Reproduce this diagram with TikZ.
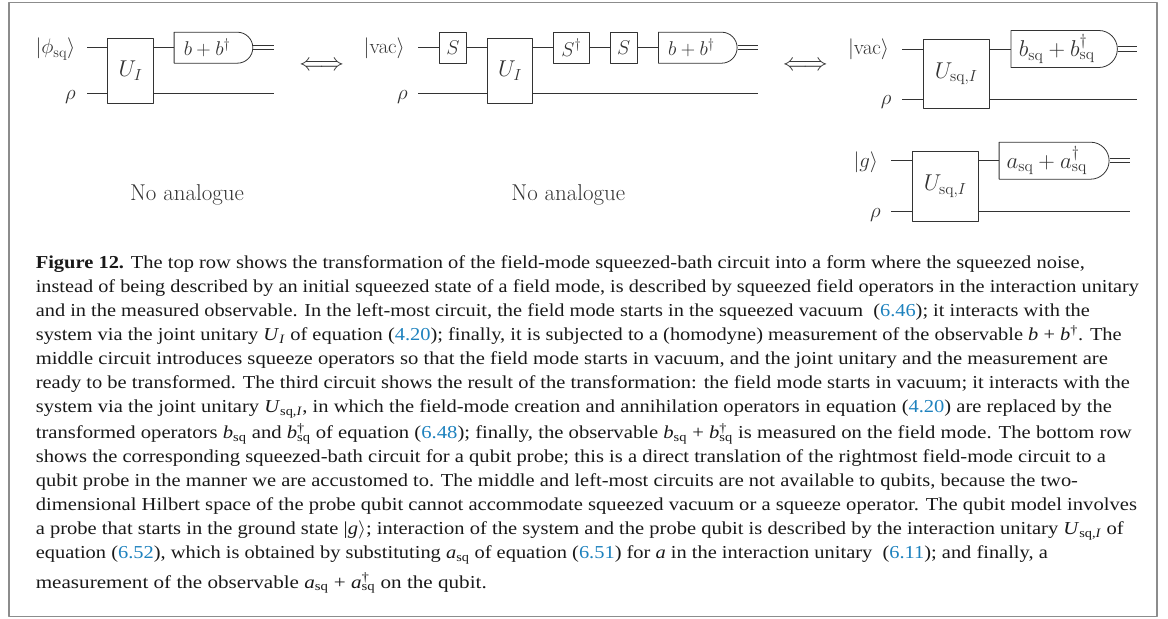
\documentclass[tikz,border=0pt]{standalone}
\usepackage{fix-cm}
\usepackage{amsmath}
\usepackage{graphicx}
\usepackage[no-math]{fontspec}
\usetikzlibrary{shapes.misc}
\newfontfamily\capfont{Liberation Serif}
\definecolor{citeblue}{RGB}{30,130,190}
\definecolor{inkgray}{gray}{0.2}
\definecolor{framegray}{gray}{0.55}
\newcommand{\cref}[1]{\textcolor{citeblue}{#1}}
\newcommand{\sqsub}[1]{\textit{#1}\textsubscript{sq}}
\newcommand{\sqdag}[1]{\textit{#1}\rlap{\textsuperscript{\textdagger}}\textsubscript{sq}}
\newcommand{\fitline}[2]{\resizebox{#1}{\height}{#2}}
\tikzset{
  gate/.style={draw=inkgray,line width=0.8bp,inner sep=0pt,text=inkgray,font=\fontsize{20}{22}\selectfont},
  biggate/.style={gate,font=\fontsize{23}{26}\selectfont},
  meter/.style={gate,rounded rectangle,rounded rectangle west arc=none},
  bigmeter/.style={meter,font=\fontsize{23}{26}\selectfont},
  wire/.style={draw=inkgray,line width=0.8bp},
  statelabel/.style={inner sep=0pt,anchor=base east,text=inkgray,font=\fontsize{21}{24}\selectfont},
  bigtext/.style={inner sep=0pt,anchor=base,text=inkgray,font=\fontsize{23}{26}\selectfont},
  capline/.style={inner sep=0pt,anchor=base west,text=black!90,font=\capfont\fontsize{18.3}{20}\selectfont},
}
\begin{document}
\begin{tikzpicture}[>=latex,line join=bevel,]
%%
\useasboundingbox (0bp,0bp) rectangle (1168bp,619bp);
\node (frame) at (583bp,309.5bp) [draw=framegray,line width=1.3bp,minimum width=1148bp,minimum height=614bp] {};
%% left circuit
\node (ket_a) at (75.5bp,565bp) [statelabel] {$|\phi_{\mathrm{sq}}\rangle$};
\node (rho_a) at (76bp,519bp) [statelabel] {$\rho$};
\coordinate (in_a1) at (87bp,571.3bp);
\coordinate (in_a2) at (87bp,525.3bp);
\coordinate (out_a1) at (274bp,571.3bp);
\coordinate (out_a2) at (274bp,525.3bp);
\node (U_a) at (130.5bp,548.2bp) [biggate,minimum width=45.6bp,minimum height=65bp] {$U_I$};
\node (meter_a) at (212bp,571.3bp) [meter,minimum width=78.7bp,minimum height=31bp] {\hspace*{-10bp}$b+b^\dagger$};
\draw [wire] (in_a1) -- (U_a.west |- in_a1);
\draw [wire] (in_a2) -- (U_a.west |- in_a2);
\draw [wire] (U_a.east |- in_a1) -- (meter_a.west);
\draw [wire] (U_a.east |- in_a2) -- (out_a2);
\draw [wire] ([yshift=2.1bp]meter_a.east) -- ([yshift=2.1bp]out_a1);
\draw [wire] ([yshift=-2.1bp]meter_a.east) -- ([yshift=-2.1bp]out_a1);
\node (iff_a) at (321.7bp,553bp) [bigtext,anchor=center,font=\fontsize{24.5}{26}\selectfont] {$\Longleftrightarrow$};
\node (none_a) at (187bp,418bp) [bigtext] {No analogue};
%% middle circuit
\node (ket_b) at (405bp,565bp) [statelabel] {$|\mathrm{vac}\rangle$};
\node (rho_b) at (408bp,519bp) [statelabel] {$\rho$};
\coordinate (in_b1) at (418.3bp,571.3bp);
\coordinate (in_b2) at (418.3bp,525.3bp);
\coordinate (out_b1) at (757.7bp,571.3bp);
\coordinate (out_b2) at (757.7bp,525.3bp);
\node (S_b1) at (453bp,571.3bp) [gate,minimum width=27.4bp,minimum height=31bp] {$S$};
\node (U_b) at (510bp,548.2bp) [biggate,minimum width=45.4bp,minimum height=65bp] {$U_I$};
\node (S_b2) at (571.3bp,571.3bp) [gate,minimum width=36bp,minimum height=31bp] {$S^\dagger$};
\node (S_b3) at (623.7bp,571.3bp) [gate,minimum width=27.4bp,minimum height=31bp] {$S$};
\node (meter_b) at (696.3bp,571.3bp) [meter,minimum width=78.7bp,minimum height=31bp] {\hspace*{-10bp}$b+b^\dagger$};
\draw [wire] (in_b1) -- (S_b1.west);
\draw [wire] (S_b1.east) -- (U_b.west |- S_b1.east);
\draw [wire] (U_b.east |- S_b2.west) -- (S_b2.west);
\draw [wire] (S_b2.east) -- (S_b3.west);
\draw [wire] (S_b3.east) -- (meter_b.west);
\draw [wire] ([yshift=2.1bp]meter_b.east) -- ([yshift=2.1bp]out_b1);
\draw [wire] ([yshift=-2.1bp]meter_b.east) -- ([yshift=-2.1bp]out_b1);
\draw [wire] (in_b2) -- (U_b.west |- in_b2);
\draw [wire] (U_b.east |- in_b2) -- (out_b2);
\node (iff_b) at (805.3bp,552.5bp) [bigtext,anchor=center,font=\fontsize{24.5}{26}\selectfont] {$\Longleftrightarrow$};
\node (none_b) at (568.3bp,418bp) [bigtext] {No analogue};
%% right circuit
\node (ket_c) at (889.3bp,564bp) [statelabel] {$|\mathrm{vac}\rangle$};
\node (rho_c) at (891.7bp,514bp) [statelabel] {$\rho$};
\coordinate (in_c1) at (902bp,570bp);
\coordinate (in_c2) at (902bp,520bp);
\coordinate (out_c1) at (1137bp,570bp);
\coordinate (out_c2) at (1137bp,520bp);
\node (U_c) at (956.2bp,545.2bp) [biggate,minimum width=65.7bp,minimum height=69bp] {$U_{\mathrm{sq},I}$};
\node (meter_c) at (1060.8bp,570bp) [bigmeter,minimum width=106.3bp,minimum height=37bp] {\hspace*{-8bp}$b_{\mathrm{sq}}+b_{\mathrm{sq}}^\dagger$};
\draw [wire] (in_c1) -- (U_c.west |- in_c1);
\draw [wire] (in_c2) -- (U_c.west |- in_c2);
\draw [wire] (U_c.east |- in_c1) -- (meter_c.west);
\draw [wire] (U_c.east |- in_c2) -- (out_c2);
\draw [wire] ([yshift=2.1bp]meter_c.east) -- ([yshift=2.1bp]out_c1);
\draw [wire] ([yshift=-2.1bp]meter_c.east) -- ([yshift=-2.1bp]out_c1);
%% qubit circuit
\node (ket_d) at (878.3bp,451bp) [statelabel] {$|g\rangle$};
\node (rho_d) at (881bp,401bp) [statelabel] {$\rho$};
\coordinate (in_d1) at (891bp,458.3bp);
\coordinate (in_d2) at (891bp,407.7bp);
\coordinate (out_d1) at (1130.3bp,458.3bp);
\coordinate (out_d2) at (1130.3bp,407.7bp);
\node (U_d) at (945.2bp,432.9bp) [biggate,minimum width=65.7bp,minimum height=70.3bp] {$U_{\mathrm{sq},I}$};
\node (meter_d) at (1050.7bp,458.3bp) [bigmeter,minimum width=110bp,minimum height=37bp] {\hspace*{-8bp}$a_{\mathrm{sq}}+a_{\mathrm{sq}}^\dagger$};
\draw [wire] (in_d1) -- (U_d.west |- in_d1);
\draw [wire] (in_d2) -- (U_d.west |- in_d2);
\draw [wire] (U_d.east |- in_d1) -- (meter_d.west);
\draw [wire] (U_d.east |- in_d2) -- (out_d2);
\draw [wire] ([yshift=2.1bp]meter_d.east) -- ([yshift=2.1bp]out_d1);
\draw [wire] ([yshift=-2.1bp]meter_d.east) -- ([yshift=-2.1bp]out_d1);
%% caption
\node (line_1) at (35.6bp,350bp) [capline] {\fitline{1049bp}{\textbf{Figure 12.} The top row shows the transformation of the field-mode squeezed-bath circuit into a form where the squeezed noise,}};
\node (line_2) at (35.6bp,326bp) [capline] {\fitline{1103bp}{instead of being described by an initial squeezed state of a field mode, is described by squeezed field operators in the interaction unitary}};
\node (line_3) at (35.6bp,302bp) [capline] {\fitline{1054bp}{and in the measured observable. In the left-most circuit, the field mode starts in the squeezed vacuum \ (\cref{6.46}); it interacts with the}};
\node (line_4) at (35.6bp,278bp) [capline] {\fitline{1086bp}{system via the joint unitary \textit{U}\textsubscript{\textit{I}} of equation (\cref{4.20}); finally, it is subjected to a (homodyne) measurement of the observable \textit{b} + \textit{b}\textsuperscript{\textdagger}. The}};
\node (line_5) at (35.6bp,254bp) [capline] {\fitline{1072bp}{middle circuit introduces squeeze operators so that the field mode starts in vacuum, and the joint unitary and the measurement are}};
\node (line_6) at (35.6bp,230bp) [capline] {\fitline{1094bp}{ready to be transformed. The third circuit shows the result of the transformation: the field mode starts in vacuum; it interacts with the}};
\node (line_7) at (35.6bp,206bp) [capline] {\fitline{1076bp}{system via the joint unitary \textit{U}\textsubscript{sq,\textit{I}}, in which the field-mode creation and annihilation operators in equation (\cref{4.20}) are replaced by the}};
\node (line_8) at (35.6bp,180bp) [capline] {\fitline{1096bp}{transformed operators \sqsub{b} and \sqdag{b} of equation (\cref{6.48}); finally, the observable \sqsub{b} + \sqdag{b} is measured on the field mode. The bottom row}};
\node (line_9) at (35.6bp,156bp) [capline] {\fitline{1070bp}{shows the corresponding squeezed-bath circuit for a qubit probe; this is a direct translation of the rightmost field-mode circuit to a}};
\node (line_10) at (35.6bp,132bp) [capline] {\fitline{1042bp}{qubit probe in the manner we are accustomed to. The middle and left-most circuits are not available to qubits, because the two-}};
\node (line_11) at (35.6bp,108bp) [capline] {\fitline{1101bp}{dimensional Hilbert space of the probe qubit cannot accommodate squeezed vacuum or a squeeze operator. The qubit model involves}};
\node (line_12) at (35.6bp,84bp) [capline] {\fitline{1088bp}{a probe that starts in the ground state |\textit{g}$\rangle$; interaction of the system and the probe qubit is described by the interaction unitary \textit{U}\textsubscript{sq,\textit{I}} of}};
\node (line_13) at (35.6bp,60bp) [capline] {\fitline{1012bp}{equation (\cref{6.52}), which is obtained by substituting \sqsub{a} of equation (\cref{6.51}) for \textit{a} in the interaction unitary \ (\cref{6.11}); and finally, a}};
\node (line_14) at (35.6bp,31bp) [capline] {\fitline{451bp}{measurement of the observable \sqsub{a} + \sqdag{a} on the qubit.}};
%
\end{tikzpicture}
\end{document}
